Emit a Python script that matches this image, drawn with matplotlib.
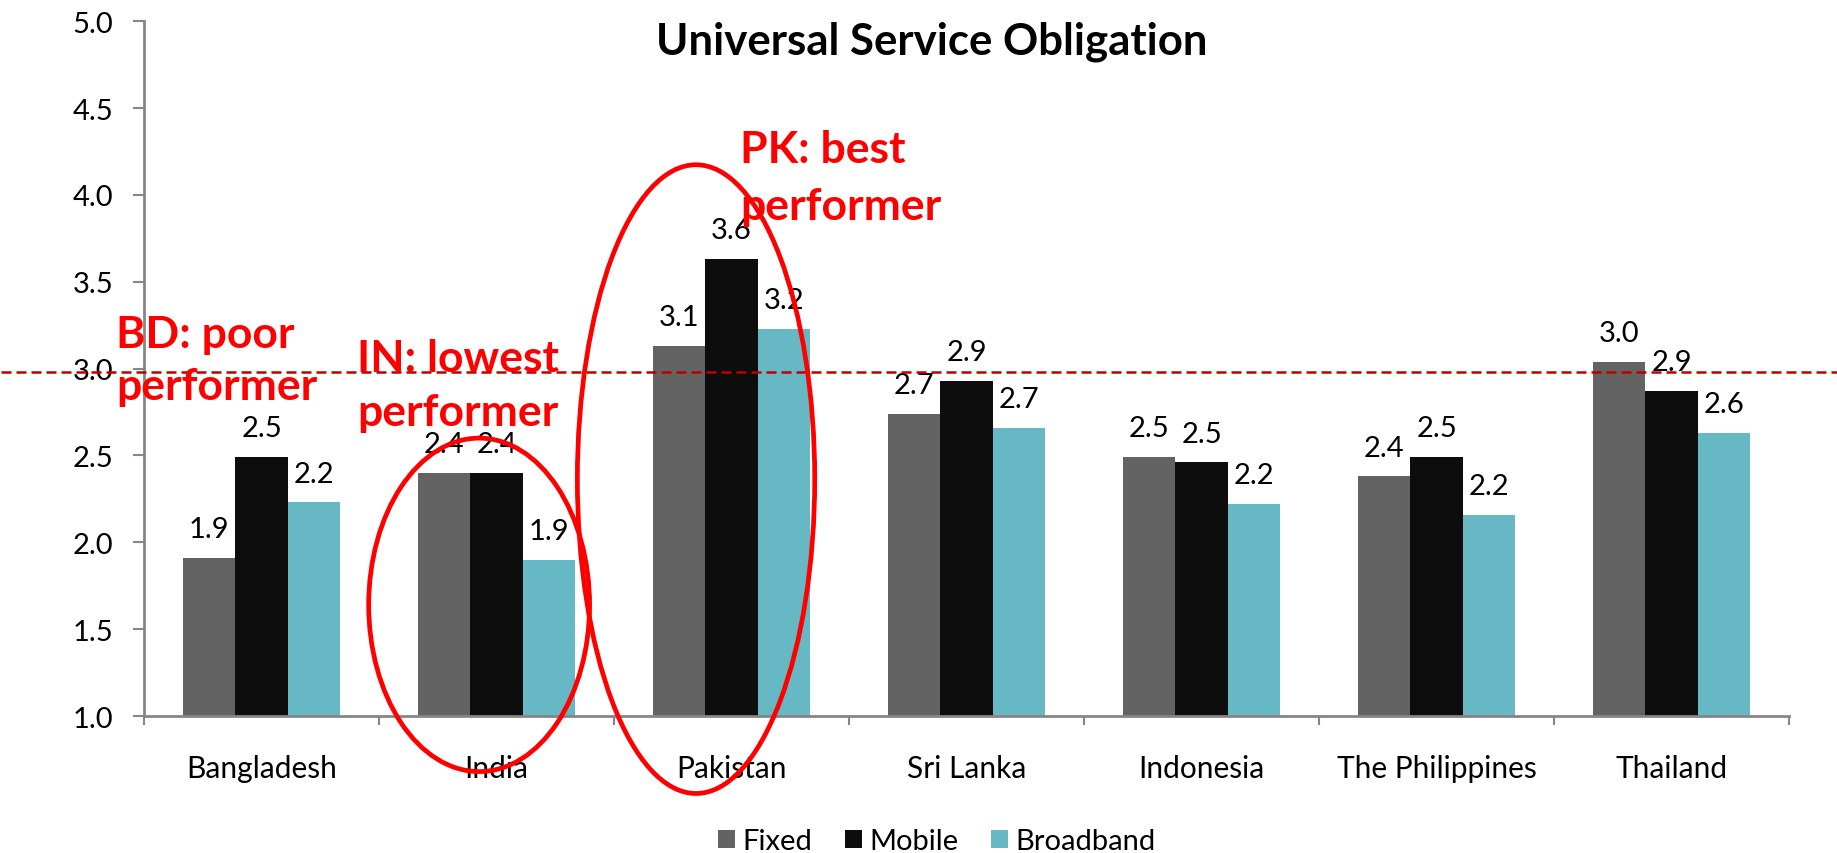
import numpy as np
import matplotlib.pyplot as plt
from matplotlib.patches import Ellipse, Patch

plt.rcParams['font.family'] = ['Lato', 'DejaVu Sans']

# Data
countries = ['Bangladesh', 'India', 'Pakistan', 'Sri Lanka', 'Indonesia',
             'The Philippines', 'Thailand']
fixed = [1.91, 2.40, 3.13, 2.74, 2.49, 2.38, 3.04]
mobile = [2.49, 2.40, 3.63, 2.93, 2.46, 2.49, 2.87]
broadband = [2.23, 1.90, 3.23, 2.66, 2.22, 2.16, 2.63]
series_names = ['Fixed', 'Mobile', 'Broadband']
colors = ['#636363', '#0d0d0d', '#67b8c5']
yticks = [1.0, 1.5, 2.0, 2.5, 3.0, 3.5, 4.0, 4.5, 5.0]
threshold = 2.98

fig = plt.figure(figsize=(18.37, 8.54), dpi=100)
ax = fig.add_axes([0.0784, 0.1604, 0.8955, 0.8135])

x = np.arange(len(countries))
w = 0.222
containers = []
for i, (vals, c) in enumerate(zip([fixed, mobile, broadband], colors)):
    bc = ax.bar(x + (i - 1) * w, np.array(vals) - 1.0, width=w, bottom=1.0,
                color=c, zorder=2)
    containers.append((bc, vals))

# Data labels above bars
for bc, vals in containers:
    for rect, v in zip(bc, vals):
        ax.annotate(f'{v:.1f}', xy=(rect.get_x() + rect.get_width() / 2, v),
                    xytext=(0, 15), textcoords='offset points',
                    ha='center', va='baseline', fontsize=21, zorder=3)

ax.set_xlim(-0.5, len(countries) - 0.5)
ax.set_ylim(1.0, 5.0)
ax.set_yticks(yticks)
ax.set_yticklabels([f'{t:.1f}' for t in yticks])
ax.set_xticks(x)
ax.set_xticklabels(countries)
ax.set_xticks(np.arange(len(countries) + 1) - 0.5, minor=True)

axis_gray = '#868686'
for s in ['top', 'right']:
    ax.spines[s].set_visible(False)
for s in ['left', 'bottom']:
    ax.spines[s].set_color(axis_gray)
    ax.spines[s].set_linewidth(2)
ax.tick_params(axis='y', direction='out', length=8, width=1.5, color=axis_gray,
               labelsize=21, pad=14)
ax.tick_params(axis='x', which='major', length=0, labelsize=21.5, pad=27)
ax.tick_params(axis='x', which='minor', direction='out', length=6.5, width=1.5,
               color=axis_gray)

# Reference line, runs across the whole picture
ax.axhline(threshold, xmin=-0.087, xmax=1.03, color='#c00000', lw=1.8,
           linestyle=(0, (4, 2)), clip_on=False, zorder=4)

# Red circles round India and Pakistan
ax.add_patch(Ellipse((0.926, 1.64), 0.94, 1.92, fill=False, edgecolor='#ff0000',
                     lw=3.4, clip_on=False, zorder=5))
ax.add_patch(Ellipse((1.849, 2.364), 1.01, 3.62, fill=False, edgecolor='#ff0000',
                     lw=3.4, clip_on=False, zorder=5))

# Red notes
notes = [('BD: poor', 'performer', 116, 348, 400),
         ('IN: lowest', 'performer', 357, 372, 426),
         ('PK: best', 'performer', 740, 163, 220)]
for l1, l2, px, b1, b2 in notes:
    fig.text(px / 1837, 1 - b1 / 854, l1, color='#ff0000', fontsize=32,
             fontweight='bold', ha='left', va='baseline', zorder=6)
    fig.text(px / 1837, 1 - b2 / 854, l2, color='#ff0000', fontsize=32,
             fontweight='bold', ha='left', va='baseline', zorder=6)

fig.text(0.507, 1 - 55 / 854, 'Universal Service Obligation', fontsize=31.5,
         fontweight='bold', ha='center', va='baseline')

handles = [Patch(facecolor=c, label=n) for c, n in zip(colors, series_names)]
fig.legend(handles=handles, loc='center', bbox_to_anchor=(0.51, 0.014),
           ncol=3, frameon=False, fontsize=21, handlelength=0.6,
           handleheight=0.6, handletextpad=0.25, columnspacing=1.1,
           borderaxespad=0, borderpad=0)

fig.savefig('out.png', dpi=100)
